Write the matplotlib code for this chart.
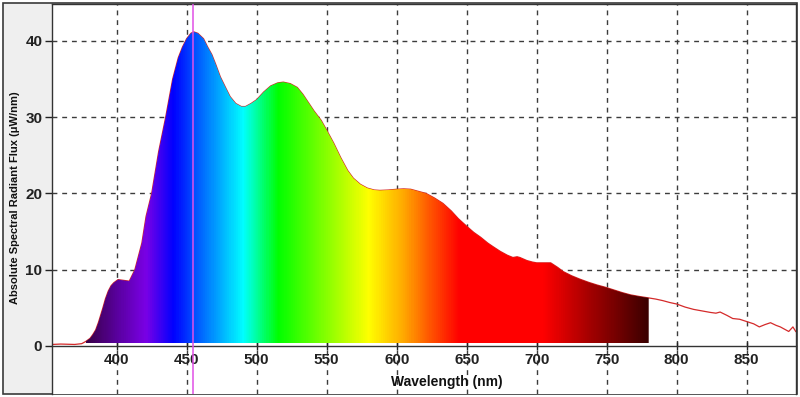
#spectral radiant flux chart - spectrum coloured fill under the curve
#python3

import numpy as np
import matplotlib.pyplot as plt
from matplotlib.colors import LinearSegmentedColormap
from matplotlib.patches import Rectangle

# wavelength (nm) and flux (uW/nm)
WAVELENGTH = [354, 360, 370, 375, 378, 381, 383, 385, 387, 390, 392, 394, 396, 398, 401, 405,
              409, 413, 418, 421, 425, 430, 435, 440, 444, 447, 450, 453, 455, 458, 462, 465,
              468, 471, 474, 478, 481, 485, 489, 492, 496, 500, 505, 510, 515, 519, 524, 529,
              533, 537, 541, 546, 550, 555, 560, 565, 569, 574, 579, 584, 588, 594, 600, 605,
              610, 615, 621, 627, 633, 639, 644, 650, 655, 660, 665, 669, 674, 679, 683,
              686, 688, 693, 697, 700, 705, 710, 715, 719, 725, 731, 737, 743, 749, 755,
              761, 767, 773, 780, 785, 790, 795, 800, 806, 812, 818, 824, 828, 831, 836,
              840, 845, 850, 855, 859, 863, 867, 871, 874, 877, 880, 883, 885]
FLUX = [0.2, 0.25, 0.2, 0.3, 0.6, 1.0, 1.5, 2.1, 3.1, 4.9, 6.2, 7.2, 7.9, 8.3, 8.7, 8.6,
        8.5, 10.0, 13.5, 17.0, 20.0, 25.5, 30.0, 35.0, 37.8, 39.2, 40.3, 41.0, 41.2, 41.0, 40.3, 39.2,
        38.2, 36.8, 35.3, 33.8, 32.7, 31.8, 31.4, 31.4, 31.8, 32.3, 33.3, 34.1, 34.5, 34.6, 34.4, 33.9,
        33.0, 31.9, 30.8, 29.6, 28.3, 26.6, 24.7, 23.0, 22.0, 21.2, 20.7, 20.45, 20.4, 20.45, 20.55, 20.6,
        20.55, 20.3, 20.0, 19.4, 18.7, 17.7, 16.7, 15.7, 14.9, 14.25, 13.5, 13.0, 12.4, 11.9, 11.6,
        11.7, 11.6, 11.2, 11.0, 10.9, 10.9, 10.9, 10.3, 9.75, 9.2, 8.75, 8.35, 8.0, 7.7, 7.35,
        7.0, 6.7, 6.5, 6.3, 6.15, 5.95, 5.7, 5.5, 5.1, 4.8, 4.6, 4.4, 4.3, 4.45, 4.0,
        3.6, 3.5, 3.2, 2.9, 2.5, 2.8, 3.05, 2.7, 2.5, 2.2, 1.9, 2.5, 1.9]

PEAK_NM = 454.7
XTICKS = [400, 450, 500, 550, 600, 650, 700, 750, 800, 850]
YTICKS = [0, 10, 20, 30, 40]

# spectrum colours used for the gradient under the visible part
SPEC_NM = [378, 400, 420, 440, 455, 490, 515, 580, 605, 625, 645, 705, 740, 780]
SPEC_COL = ['#3a004a', '#5a00a0', '#7a00e6', '#0000ff', '#0050ff', '#00ffff', '#00ff00',
            '#ffff00', '#ffa800', '#ff5000', '#ff0000', '#ff0000', '#a00000', '#3c0000']

FONT = ['Liberation Sans', 'DejaVu Sans']

wl = np.array(WAVELENGTH, dtype=float)
flux = np.array(FLUX)

fig = plt.figure(figsize=(8, 3.97), dpi=100, facecolor='white')
fig.patches.append(Rectangle((3 / 800, 3 / 397), 794 / 800, 391 / 397, transform=fig.transFigure,
                             facecolor='#efefef', edgecolor='#3a3a3a', lw=1.2, zorder=0))
ax = fig.add_axes([52 / 800, 3 / 397, 744 / 800, 390 / 397], zorder=2)
ax.set_facecolor('white')
ax.set_xlim(353.8, 885.2)
ax.set_ylim(-6.3, 44.85)

# grid
for x in XTICKS:
    ax.axvline(x, color='#3c3c3c', lw=1, ls=(0, (3.5, 3.5)), zorder=1)
for y in YTICKS[1:]:
    ax.axhline(y, color='#3c3c3c', lw=1, ls=(0, (3.5, 3.5)), zorder=1)

# curve first, the coloured area covers it inside the visible band
ax.plot(wl, flux, color='#d42a2a', lw=0.9, zorder=1.5)

vis = (wl >= 378) & (wl <= 780)
poly = ax.fill_between(wl[vis], 0.35, flux[vis], color='none', lw=0, zorder=2)
cmap = LinearSegmentedColormap.from_list(
    'spec', [((n - 378) / 402, c) for n, c in zip(SPEC_NM, SPEC_COL)])
grad = np.linspace(0, 1, 800).reshape(1, -1)
img = ax.imshow(grad, cmap=cmap, aspect='auto', extent=[378, 780, 0.35, 44],
                interpolation='bilinear', zorder=2)
img.set_clip_path(poly.get_paths()[0], transform=ax.transData)

ax.axvline(PEAK_NM, color='#e050e6', lw=1.1, zorder=4)

# axes styling
ax.spines['bottom'].set_position(('data', 0))
for s in ['left', 'top', 'right', 'bottom']:
    ax.spines[s].set_color('#333333')
    ax.spines[s].set_linewidth(1)
ax.set_xticks(XTICKS)
ax.set_yticks(YTICKS)
ax.tick_params(axis='x', direction='inout', length=6, width=1, colors='#222222', pad=2)
ax.tick_params(axis='y', direction='out', length=5, width=1, colors='#222222', pad=2)
for lab in ax.get_xticklabels() + ax.get_yticklabels():
    lab.set_family(FONT)
    lab.set_fontweight('bold')
    lab.set_fontsize(11)

fig.text(447 / 800, 1 - 382 / 397, 'Wavelength (nm)', ha='center', va='center',
         family=FONT, fontweight='bold', fontsize=10, color='#111111')
fig.text(15 / 800, 1 - 198 / 397, 'Absolute Spectral Radiant Flux (\u03bcW/nm)', rotation=90,
         ha='center', va='center', family=FONT, fontweight='bold', fontsize=8, color='#111111')

plt.savefig('out.png', dpi=100, facecolor=fig.get_facecolor())
